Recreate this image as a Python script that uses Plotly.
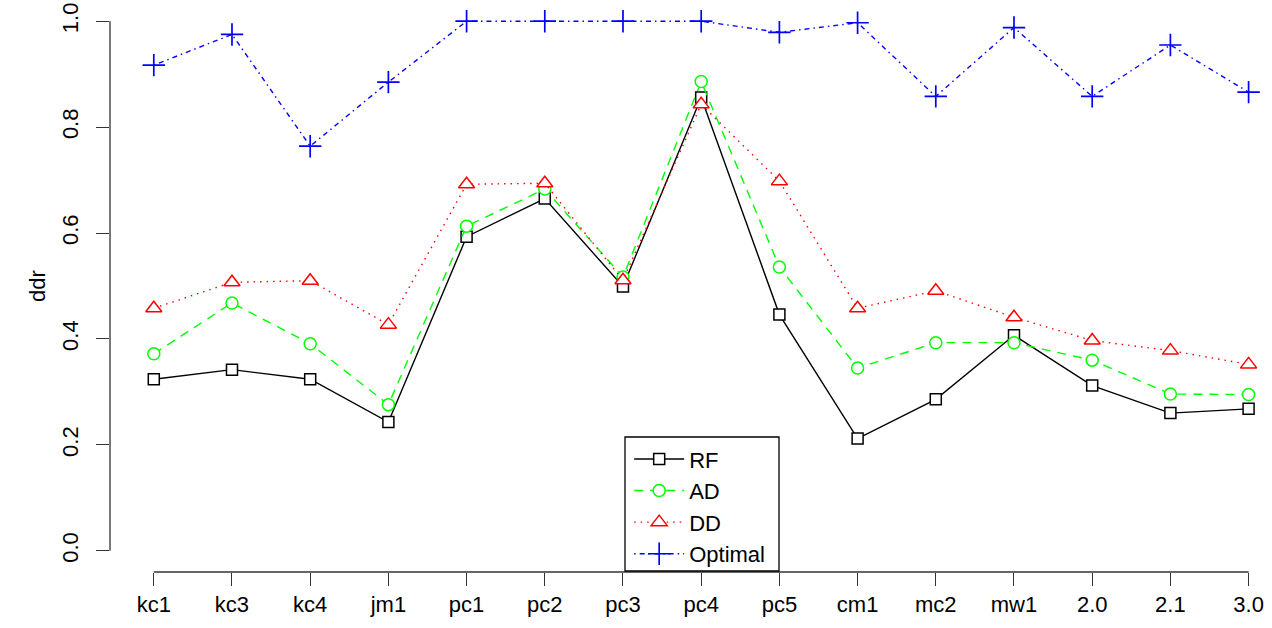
import plotly.graph_objects as go

categories = ["kc1", "kc3", "kc4", "jm1", "pc1", "pc2", "pc3", "pc4", "pc5",
              "cm1", "mc2", "mw1", "2.0", "2.1", "3.0"]
rf = [0.324, 0.342, 0.324, 0.243, 0.593, 0.665, 0.499, 0.856, 0.446,
      0.212, 0.286, 0.407, 0.312, 0.260, 0.268]
ad = [0.372, 0.468, 0.391, 0.276, 0.613, 0.683, 0.517, 0.886, 0.536,
      0.345, 0.393, 0.393, 0.360, 0.296, 0.295]
dd = [0.458, 0.507, 0.510, 0.427, 0.692, 0.694, 0.511, 0.843, 0.698,
      0.458, 0.491, 0.441, 0.397, 0.378, 0.352]
optimal = [0.917, 0.975, 0.764, 0.885, 1.000, 1.000, 1.000, 1.000, 0.979,
           0.997, 0.858, 0.988, 0.858, 0.955, 0.866]
y_ticks = [0.0, 0.2, 0.4, 0.6, 0.8, 1.0]

FONT = "Liberation Sans, Arial, Helvetica, sans-serif"
FS = 22
xs = list(range(1, len(categories) + 1))

series = [
    ("RF", rf, "#000000", "solid", "square", 11),
    ("AD", ad, "#00FF00", "9px,7px", "circle", 12),
    ("DD", dd, "#FF0000", "1.5px,5px", "triangle-up", 14),
    ("Optimal", optimal, "#0000FF", "1.5px,4px,5px,4px", "cross-thin", 16),
]

fig = go.Figure()
for name, vals, color, dash, sym, size in series:
    if sym == "cross-thin":
        marker = dict(symbol="cross-thin-open", size=size, color=color,
                      line=dict(color=color, width=1.7))
    else:
        marker = dict(symbol=sym, size=size, color="white",
                      line=dict(color=color, width=1.5))
    fig.add_trace(go.Scatter(
        x=xs, y=vals, name=name, mode="lines+markers",
        line=dict(color=color, width=1.4, dash=dash),
        marker=marker,
    ))

fig.update_layout(
    width=1272, height=628,
    margin=dict(l=110, r=0, t=0, b=56),
    plot_bgcolor="white", paper_bgcolor="white",
    font=dict(family=FONT, size=FS, color="black"),
    showlegend=True,
    legend=dict(x=0.4468, y=0.234, xanchor="left", yanchor="top",
                bgcolor="rgba(0,0,0,0)", borderwidth=0,
                itemwidth=50, tracegroupgap=0,
                font=dict(family=FONT, size=FS, color="black")),
    xaxis=dict(range=[0.44, 0.44 + 1162 / 78.2], tickvals=xs, ticktext=categories,
               showgrid=False, zeroline=False, showline=False,
               ticks="outside", ticklen=13, tickwidth=1.3, tickcolor="#333333",
               tickfont=dict(family=FONT, size=FS)),
    yaxis=dict(range=[-0.04, 1.04], tickvals=y_ticks,
               ticktext=[f"{v:.1f}" for v in y_ticks], tickangle=-90,
               showgrid=False, zeroline=False, showline=False,
               ticks="outside", ticklen=13, tickwidth=1.3, tickcolor="#333333",
               ticklabelstandoff=9,
               tickfont=dict(family=FONT, size=FS),
               title=dict(text="ddr", standoff=6, font=dict(family=FONT, size=FS))),
)

# R-style axis lines spanning only first to last tick
fig.add_shape(type="line", xref="paper", yref="y", x0=0, x1=0,
              y0=y_ticks[0], y1=y_ticks[-1], line=dict(color="#333333", width=1.3))
fig.add_shape(type="line", xref="x", yref="paper", x0=xs[0], x1=xs[-1],
              y0=0, y1=0, line=dict(color="#333333", width=1.3))
# legend frame
fig.add_shape(type="rect", xref="paper", yref="paper",
              x0=(625 - 110) / 1162, x1=(779 - 110) / 1162,
              y0=(572 - 571) / 572, y1=(572 - 437) / 572,
              line=dict(color="black", width=1.3), fillcolor="rgba(0,0,0,0)")

fig.write_html("out.html")
